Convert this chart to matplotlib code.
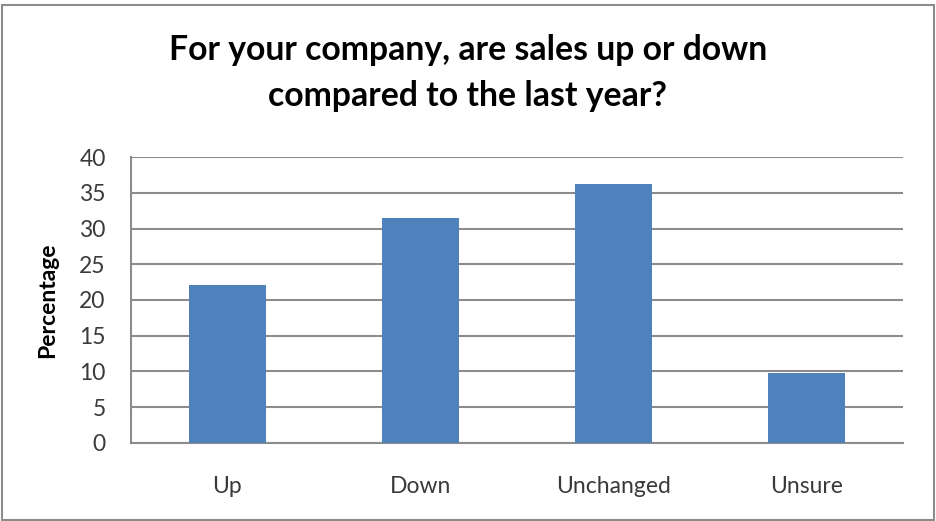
import matplotlib.pyplot as plt
from matplotlib.patches import Rectangle

categories = ['Up', 'Down', 'Unchanged', 'Unsure']
percentages = [22.1, 31.45, 36.26, 9.81]
yticks = [0, 5, 10, 15, 20, 25, 30, 35, 40]

plt.rcParams['font.family'] = ['Lato', 'DejaVu Sans']

W, H = 936, 521
fig = plt.figure(figsize=(W / 100, H / 100), dpi=100)
fig.set_facecolor('white')

# outer chart border like an Excel chart area
fig.patches.append(Rectangle((1.5 / W, 1.5 / H), (W - 3.5) / W, (H - 6) / H,
                             transform=fig.transFigure, fill=False,
                             edgecolor='#8c8c8c', linewidth=1.5))

ax = fig.add_axes([130.7 / W, (H - 442.7) / H, (903.3 - 130.7) / W, (442.7 - 157.3) / H])
x = range(len(categories))
ax.bar(x, percentages, width=0.4, color='#4F81BD', zorder=3)

ax.set_xlim(-0.5, len(categories) - 0.5)
ax.set_ylim(0, 40)
ax.set_yticks(yticks)
ax.set_yticklabels([str(t) for t in yticks], fontsize=16.5, color='#3a3a3a')
ax.set_xticks(list(x))
ax.set_xticklabels(categories, fontsize=16.5, color='#3a3a3a')
ax.tick_params(axis='both', length=0)
ax.tick_params(axis='x', pad=24)
ax.tick_params(axis='y', pad=18)
ax.grid(axis='y', color='#8c8c8c', linewidth=1.5, zorder=0)

for s in ['top', 'right']:
    ax.spines[s].set_visible(False)
for s in ['left', 'bottom']:
    ax.spines[s].set_color('#8c8c8c')
    ax.spines[s].set_linewidth(1.5)

fig.text(48 / W, 1 - 300 / H, 'Percentage', rotation=90, ha='center', va='center',
         fontsize=16.5, fontweight='bold')

fig.text(468 / W, 1 - 73 / H, 'For your company, are sales up or down\ncompared to the last year?',
         ha='center', va='center', fontsize=24.3, fontweight='bold', linespacing=1.5)

fig.savefig('out.png', dpi=100)
